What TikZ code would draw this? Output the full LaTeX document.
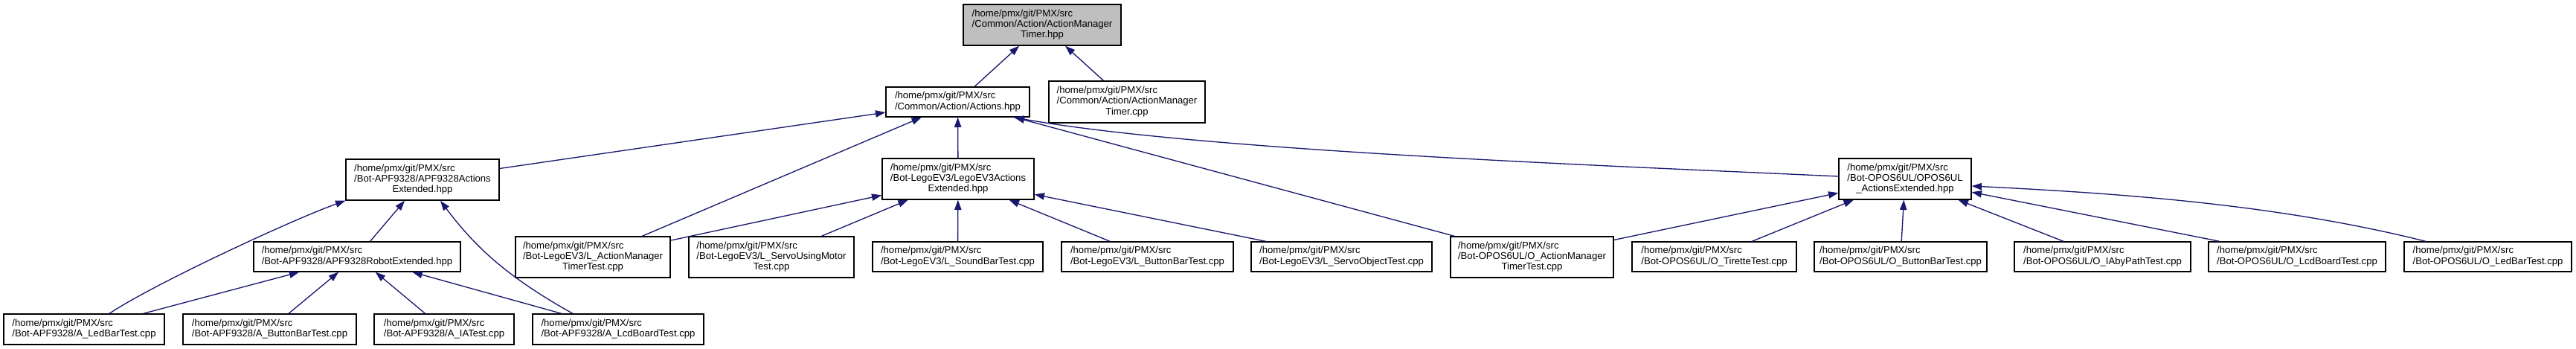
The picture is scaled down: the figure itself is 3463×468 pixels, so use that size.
\documentclass[tikz,border=0pt]{standalone}
\usepackage{fontspec}
\setmainfont{Liberation Sans}
\usetikzlibrary{arrows.meta,calc}
\definecolor{edgeblue}{HTML}{191970}
\definecolor{rootgrey}{HTML}{BFBFBF}
\newcommand{\pmxhome}{/home/pmx/git/PMX/src}
\newcommand{\twol}[2]{\begin{tabular}{@{}l@{}}#1\\#2\end{tabular}}
\newcommand{\threel}[3]{\begin{tabular}{@{}l@{}}#1\\#2\\\multicolumn{1}{@{}c@{}}{#3}\end{tabular}}
\begin{document}
\begin{tikzpicture}[x=0.75pt,y=-0.75pt,
  bx/.style 2 args={draw=black, line width=1pt, fill=white, inner sep=0pt,
    minimum width=#1*0.75pt, minimum height=#2*0.75pt,
    font=\fontsize{9.83pt}{10.75pt}\selectfont},
  edge/.style={draw=edgeblue, line width=1pt, -{Triangle[length=10pt,width=7pt]}}]
\useasboundingbox (0,0) rectangle (3463,468);
% row 0
\node[bx={212}{55}, fill=rootgrey] (root) at (1401,33.5) {\threel{\pmxhome}{/Common/Action/ActionManager}{Timer.hpp}};
% row 1
\node[bx={193}{40}] (actions) at (1287.5,137) {\twol{\pmxhome}{/Common/Action/Actions.hpp}};
\node[bx={210}{56}] (amtcpp) at (1515,137) {\threel{\pmxhome}{/Common/Action/ActionManager}{Timer.cpp}};
% row 2
\node[bx={206}{55}] (apf) at (568,241.5) {\threel{\pmxhome}{/Bot-APF9328/APF9328Actions}{Extended.hpp}};
\node[bx={204}{55}] (lego) at (1288,240.5) {\threel{\pmxhome}{/Bot-LegoEV3/LegoEV3Actions}{Extended.hpp}};
\node[bx={178}{55}] (opos) at (2561,240.5) {\threel{\pmxhome}{/Bot-OPOS6UL/OPOS6UL}{\_ActionsExtended.hpp}};
% row 3
\node[bx={278}{40}] (robot) at (480,345) {\twol{\pmxhome}{/Bot-APF9328/APF9328RobotExtended.hpp}};
\node[bx={208}{55}] (lamt) at (797,345.5) {\threel{\pmxhome}{/Bot-LegoEV3/L\_ActionManager}{TimerTest.cpp}};
\node[bx={222}{55}] (lsum) at (1037,345.5) {\threel{\pmxhome}{/Bot-LegoEV3/L\_ServoUsingMotor}{Test.cpp}};
\node[bx={229}{40}] (lsound) at (1287.5,345) {\twol{\pmxhome}{/Bot-LegoEV3/L\_SoundBarTest.cpp}};
\node[bx={231}{40}] (lbutton) at (1542.5,345) {\twol{\pmxhome}{/Bot-LegoEV3/L\_ButtonBarTest.cpp}};
\node[bx={243}{40}] (lservo) at (1803.5,345) {\twol{\pmxhome}{/Bot-LegoEV3/L\_ServoObjectTest.cpp}};
\node[bx={219}{55}] (oamt) at (2059.5,345.5) {\threel{\pmxhome}{/Bot-OPOS6UL/O\_ActionManager}{TimerTest.cpp}};
\node[bx={221}{40}] (otir) at (2304.5,345) {\twol{\pmxhome}{/Bot-OPOS6UL/O\_TiretteTest.cpp}};
\node[bx={232}{40}] (obutton) at (2555,345) {\twol{\pmxhome}{/Bot-OPOS6UL/O\_ButtonBarTest.cpp}};
\node[bx={237}{40}] (oia) at (2826.5,345) {\twol{\pmxhome}{/Bot-OPOS6UL/O\_IAbyPathTest.cpp}};
\node[bx={238}{40}] (olcd) at (3088,345) {\twol{\pmxhome}{/Bot-OPOS6UL/O\_LcdBoardTest.cpp}};
\node[bx={225}{40}] (oled) at (3344.5,345) {\twol{\pmxhome}{/Bot-OPOS6UL/O\_LedBarTest.cpp}};
% row 4
\node[bx={216}{41}] (aled) at (113,442.5) {\twol{\pmxhome}{/Bot-APF9328/A\_LedBarTest.cpp}};
\node[bx={233}{41}] (abutton) at (362.5,442.5) {\twol{\pmxhome}{/Bot-APF9328/A\_ButtonBarTest.cpp}};
\node[bx={188}{41}] (aia) at (597,442.5) {\twol{\pmxhome}{/Bot-APF9328/A\_IATest.cpp}};
\node[bx={230}{41}] (alcd) at (831,442.5) {\twol{\pmxhome}{/Bot-APF9328/A\_LcdBoardTest.cpp}};
% edges (child -> parent)
\draw[edge] (actions) -- (root);
\draw[edge] (amtcpp) -- (root);
\draw[edge] (apf) -- (actions);
\draw[edge] (lamt) -- (actions);
\draw[edge] (lego) -- (actions);
\draw[edge] (oamt) -- (actions);
\draw[edge] ($(opos.west)+(0,-3.5)$) .. controls +(-300,-14) and +(250,45) .. ($(actions.south east)+(-22,0)$);
\draw[edge] (lamt) -- (lego);
\draw[edge] (lsum) -- (lego);
\draw[edge] (lsound) -- (lego);
\draw[edge] (lbutton) -- (lego);
\draw[edge] (lservo) -- (lego);
\draw[edge] ($(aled.north)+(34,0)$) .. controls +(60,-40) and +(-70,25) .. (apf.south west);
\draw[edge] (robot) -- (apf);
\draw[edge] ($(alcd.north)+(-61,0)$) .. controls +(-90,-50) and +(45,60) .. ($(apf.south)+(24,0)$);
\draw[edge] (aled) -- (robot);
\draw[edge] (abutton) -- (robot);
\draw[edge] (aia) -- (robot);
\draw[edge] (alcd) -- (robot);
\draw[edge] (oamt) -- (opos);
\draw[edge] (otir) -- (opos);
\draw[edge] (obutton) -- (opos);
\draw[edge] (oia) -- (opos);
\draw[edge] (olcd) -- (opos);
\draw[edge] ($(oled.north)+(-83.5,0)$) .. controls +(-200,-50) and +(200,10) .. ($(opos.east)+(0,9.5)$);
\end{tikzpicture}
\end{document}
